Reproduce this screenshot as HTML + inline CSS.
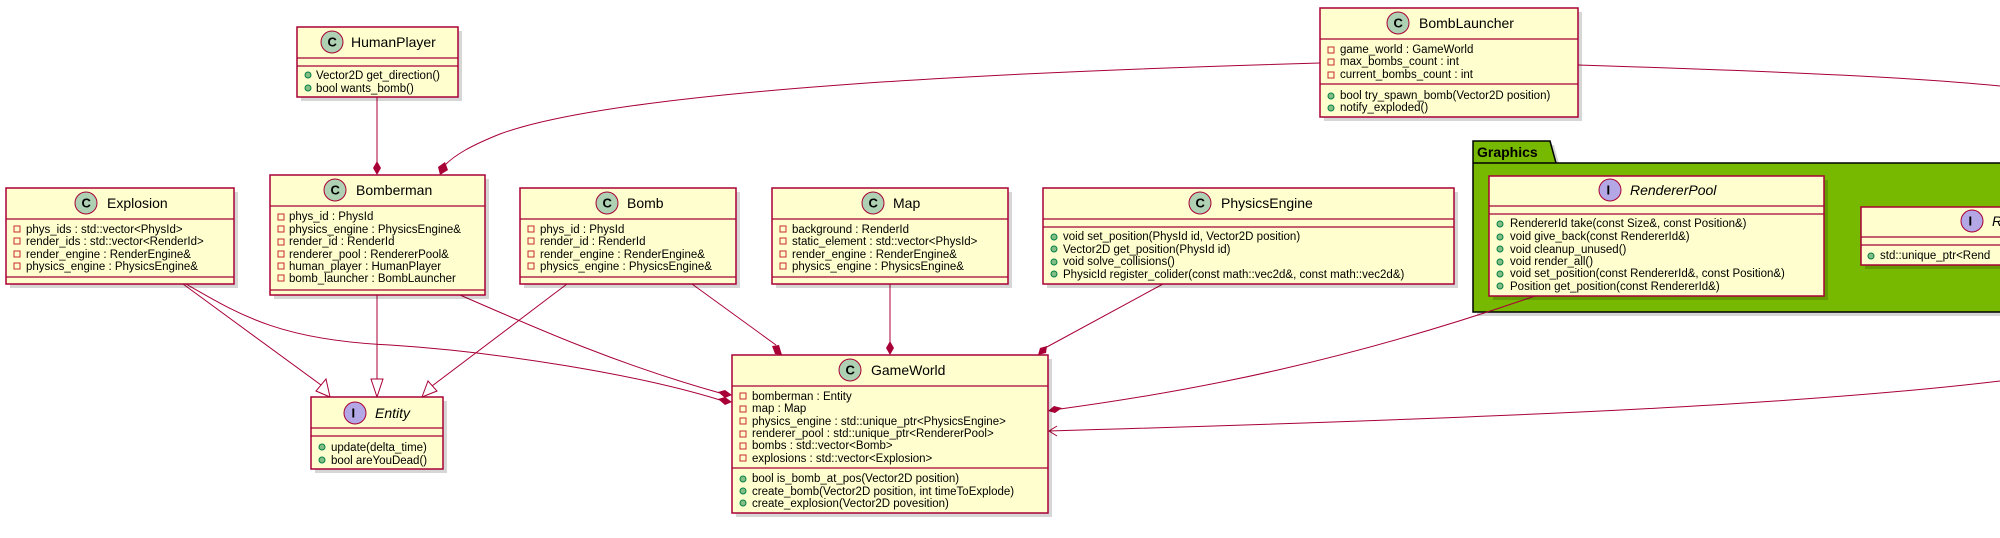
<!DOCTYPE html>
<html><head><meta charset="utf-8"><style>
html,body{margin:0;padding:0;background:#fff;overflow:hidden;}
svg{display:block;}
text{font-family:"Liberation Sans",sans-serif;font-size:11.5px;fill:#000;}
.t{font-size:14px;}
.i{font-style:italic;}
.b{fill:#FEFECE;stroke:#A80036;stroke-width:1.5;}
.s{fill:#000;opacity:.16;}
.l{stroke:#A80036;stroke-width:1;fill:none;}
.sep{stroke:#A80036;stroke-width:1.3;}
.pv{fill:none;stroke:#C82930;stroke-width:1;}
.pb{fill:#84BE84;stroke:#038048;stroke-width:1;}
.cc{fill:#ADD1B2;stroke:#A80036;stroke-width:1;}
.ci{fill:#B4A7E5;stroke:#A80036;stroke-width:1;}
.gl{font-weight:bold;font-size:13px;}
</style></head><body>
<svg width="2000" height="538" viewBox="0 0 2000 538" xmlns="http://www.w3.org/2000/svg">
<defs>
<g id="pv"><rect x="-3" y="-3" width="6" height="6" class="pv"/></g>
<g id="pb"><circle r="3" class="pb"/></g>
</defs>

<!-- Graphics package -->
<polygon points="1477,145 1554,145 1560,167 2014,167 2014,316 1477,316" fill="#000" opacity=".16"/>
<polygon points="1473,141 1550,141 1556,163 2010,163 2010,312 1473,312" fill="#77B800" stroke="#000" stroke-width="1.5"/>
<line x1="1473" y1="163" x2="1556" y2="163" stroke="#000" stroke-width="1.5"/>
<text x="1477" y="157" style="font-size:14px;font-weight:bold">Graphics</text>

<!-- edges -->
<line class="l" x1="377" y1="97" x2="377" y2="162"/>
<polygon points="377,175 373,168 377,161 381,168" fill="#A80036"/>
<path class="l" d="M1320,63 C1000,72 620,90 500,134 C470,146 455,155 445,165"/>
<polygon points="440,175 438,167 445,162 448,170" fill="#A80036"/>
<path class="l" d="M1578,65 C1800,72 1920,78 2000,86"/>
<line class="l" x1="183" y1="284" x2="321" y2="385"/>
<polygon points="330,397 316,391 326,379" fill="#fff" stroke="#A80036"/>
<line class="l" x1="377" y1="295" x2="377" y2="379"/>
<polygon points="377,397 371,379 383,379" fill="#fff" stroke="#A80036"/>
<line class="l" x1="567" y1="284" x2="432" y2="386"/>
<polygon points="422,397 428,381 437,391" fill="#fff" stroke="#A80036"/>
<path class="l" d="M186,284 C240,315 280,340 390,345 C500,352 640,375 720,400"/>
<polygon points="732,402 725,405 718,399 725,397" fill="#A80036"/>
<path class="l" d="M460,295 C540,330 620,365 720,393"/>
<polygon points="732,395 725,398 718,392 725,390" fill="#A80036"/>
<line class="l" x1="692" y1="284" x2="776" y2="345"/>
<polygon points="782,355 775,354 772,346 779,345" fill="#A80036"/>
<line class="l" x1="890" y1="284" x2="890" y2="342"/>
<polygon points="890,355 886,348 890,341 894,348" fill="#A80036"/>
<line class="l" x1="1163" y1="284" x2="1045" y2="348"/>
<polygon points="1038,355 1040,348 1047,346 1046,353" fill="#A80036"/>
<path class="l" d="M1535,296 C1350,360 1200,390 1060,409"/>
<polygon points="1048,411 1054,406 1062,408 1055,413" fill="#A80036"/>
<path class="l" d="M2000,381 C1800,405 1500,418 1049,431"/>
<polyline class="l" points="1057,426 1049,431 1057,436"/>

<!-- HumanPlayer -->
<rect class="s" x="301" y="31" width="161" height="70"/>
<rect class="b" x="297" y="27" width="161" height="70"/>
<circle class="cc" cx="332" cy="42" r="11"/><text x="327.5" y="46.5" class="gl">C</text>
<text x="351" y="47" class="t">HumanPlayer</text>
<line class="sep" x1="297" y1="58" x2="458" y2="58"/>
<line class="sep" x1="297" y1="66" x2="458" y2="66"/>
<use href="#pb" x="308" y="75"/><text x="316" y="79">Vector2D get_direction()</text>
<use href="#pb" x="308" y="88"/><text x="316" y="92">bool wants_bomb()</text>

<!-- BombLauncher -->
<rect class="s" x="1324" y="12" width="258" height="109"/>
<rect class="b" x="1320" y="8" width="258" height="109"/>
<circle class="cc" cx="1398" cy="23" r="11"/><text x="1393.5" y="27.5" class="gl">C</text>
<text x="1419" y="28" class="t">BombLauncher</text>
<line class="sep" x1="1320" y1="39" x2="1578" y2="39"/>
<use href="#pv" x="1331" y="50"/><text x="1340" y="53">game_world : GameWorld</text>
<use href="#pv" x="1331" y="62"/><text x="1340" y="65">max_bombs_count : int</text>
<use href="#pv" x="1331" y="75"/><text x="1340" y="78">current_bombs_count : int</text>
<line class="sep" x1="1320" y1="84" x2="1578" y2="84"/>
<use href="#pb" x="1331" y="96"/><text x="1340" y="99">bool try_spawn_bomb(Vector2D position)</text>
<use href="#pb" x="1331" y="108"/><text x="1340" y="111">notify_exploded()</text>

<!-- Explosion -->
<rect class="s" x="10" y="192" width="228" height="96"/>
<rect class="b" x="6" y="188" width="228" height="96"/>
<circle class="cc" cx="86" cy="203" r="11"/><text x="81.5" y="207.5" class="gl">C</text>
<text x="107" y="208" class="t">Explosion</text>
<line class="sep" x1="6" y1="219" x2="234" y2="219"/>
<use href="#pv" x="17" y="229"/><text x="26" y="233">phys_ids : std::vector&lt;PhysId&gt;</text>
<use href="#pv" x="17" y="241"/><text x="26" y="245">render_ids : std::vector&lt;RenderId&gt;</text>
<use href="#pv" x="17" y="254"/><text x="26" y="258">render_engine : RenderEngine&amp;</text>
<use href="#pv" x="17" y="266"/><text x="26" y="270">physics_engine : PhysicsEngine&amp;</text>
<line class="sep" x1="6" y1="277" x2="234" y2="277"/>

<!-- Bomberman -->
<rect class="s" x="274" y="179" width="215" height="120"/>
<rect class="b" x="270" y="175" width="215" height="120"/>
<circle class="cc" cx="335" cy="190" r="11"/><text x="330.5" y="194.5" class="gl">C</text>
<text x="356" y="195" class="t">Bomberman</text>
<line class="sep" x1="270" y1="206" x2="485" y2="206"/>
<use href="#pv" x="281" y="217"/><text x="289" y="220">phys_id : PhysId</text>
<use href="#pv" x="281" y="229"/><text x="289" y="233">physics_engine : PhysicsEngine&amp;</text>
<use href="#pv" x="281" y="242"/><text x="289" y="245">render_id : RenderId</text>
<use href="#pv" x="281" y="254"/><text x="289" y="258">renderer_pool : RendererPool&amp;</text>
<use href="#pv" x="281" y="266"/><text x="289" y="270">human_player : HumanPlayer</text>
<use href="#pv" x="281" y="278"/><text x="289" y="282">bomb_launcher : BombLauncher</text>
<line class="sep" x1="270" y1="290" x2="485" y2="290"/>

<!-- Bomb -->
<rect class="s" x="524" y="192" width="216" height="96"/>
<rect class="b" x="520" y="188" width="216" height="96"/>
<circle class="cc" cx="607" cy="203" r="11"/><text x="602.5" y="207.5" class="gl">C</text>
<text x="627" y="208" class="t">Bomb</text>
<line class="sep" x1="520" y1="219" x2="736" y2="219"/>
<use href="#pv" x="531" y="229"/><text x="540" y="233">phys_id : PhysId</text>
<use href="#pv" x="531" y="241"/><text x="540" y="245">render_id : RenderId</text>
<use href="#pv" x="531" y="254"/><text x="540" y="258">render_engine : RenderEngine&amp;</text>
<use href="#pv" x="531" y="266"/><text x="540" y="270">physics_engine : PhysicsEngine&amp;</text>
<line class="sep" x1="520" y1="277" x2="736" y2="277"/>

<!-- Map -->
<rect class="s" x="776" y="192" width="236" height="96"/>
<rect class="b" x="772" y="188" width="236" height="96"/>
<circle class="cc" cx="873" cy="203" r="11"/><text x="868.5" y="207.5" class="gl">C</text>
<text x="893" y="208" class="t">Map</text>
<line class="sep" x1="772" y1="219" x2="1008" y2="219"/>
<use href="#pv" x="783" y="229"/><text x="792" y="233">background : RenderId</text>
<use href="#pv" x="783" y="241"/><text x="792" y="245">static_element : std::vector&lt;PhysId&gt;</text>
<use href="#pv" x="783" y="254"/><text x="792" y="258">render_engine : RenderEngine&amp;</text>
<use href="#pv" x="783" y="266"/><text x="792" y="270">physics_engine : PhysicsEngine&amp;</text>
<line class="sep" x1="772" y1="277" x2="1008" y2="277"/>

<!-- PhysicsEngine -->
<rect class="s" x="1047" y="192" width="411" height="96"/>
<rect class="b" x="1043" y="188" width="411" height="96"/>
<circle class="cc" cx="1200" cy="203" r="11"/><text x="1195.5" y="207.5" class="gl">C</text>
<text x="1221" y="208" class="t">PhysicsEngine</text>
<line class="sep" x1="1043" y1="219" x2="1454" y2="219"/>
<line class="sep" x1="1043" y1="227" x2="1454" y2="227"/>
<use href="#pb" x="1054" y="237"/><text x="1063" y="240">void set_position(PhysId id, Vector2D position)</text>
<use href="#pb" x="1054" y="249"/><text x="1063" y="253">Vector2D get_position(PhysId id)</text>
<use href="#pb" x="1054" y="262"/><text x="1063" y="265">void solve_collisions()</text>
<use href="#pb" x="1054" y="274"/><text x="1063" y="278">PhysicId register_colider(const math::vec2d&amp;, const math::vec2d&amp;)</text>

<!-- RendererPool -->
<rect class="s" x="1493" y="180" width="335" height="120"/>
<rect class="b" x="1489" y="176" width="335" height="120"/>
<circle class="ci" cx="1610" cy="190" r="11"/><text x="1606.5" y="194.5" class="gl">I</text>
<text x="1630" y="195" class="t i">RendererPool</text>
<line class="sep" x1="1489" y1="206" x2="1824" y2="206"/>
<line class="sep" x1="1489" y1="214" x2="1824" y2="214"/>
<use href="#pb" x="1500" y="224"/><text x="1510" y="227">RendererId take(const Size&amp;, const Position&amp;)</text>
<use href="#pb" x="1500" y="237"/><text x="1510" y="240">void give_back(const RendererId&amp;)</text>
<use href="#pb" x="1500" y="249"/><text x="1510" y="253">void cleanup_unused()</text>
<use href="#pb" x="1500" y="262"/><text x="1510" y="265">void render_all()</text>
<use href="#pb" x="1500" y="274"/><text x="1510" y="277">void set_position(const RendererId&amp;, const Position&amp;)</text>
<use href="#pb" x="1500" y="286"/><text x="1510" y="290">Position get_position(const RendererId&amp;)</text>

<!-- R interface (clipped) -->
<rect class="s" x="1865" y="211" width="160" height="58"/>
<rect class="b" x="1861" y="207" width="160" height="58"/>
<circle class="ci" cx="1972" cy="221" r="11"/><text x="1968.5" y="225.5" class="gl">I</text>
<text x="1992" y="226" class="t i">R</text>
<line class="sep" x1="1861" y1="237" x2="2010" y2="237"/>
<line class="sep" x1="1861" y1="245" x2="2010" y2="245"/>
<use href="#pb" x="1871" y="256"/><text x="1880" y="259">std::unique_ptr&lt;Rend</text>

<!-- Entity -->
<rect class="s" x="315" y="401" width="132" height="72"/>
<rect class="b" x="311" y="397" width="132" height="72"/>
<circle class="ci" cx="355" cy="413" r="11"/><text x="351.5" y="417.5" class="gl">I</text>
<text x="375" y="418" class="t i">Entity</text>
<line class="sep" x1="311" y1="428" x2="443" y2="428"/>
<line class="sep" x1="311" y1="436" x2="443" y2="436"/>
<use href="#pb" x="322" y="447"/><text x="331" y="451">update(delta_time)</text>
<use href="#pb" x="322" y="460"/><text x="331" y="464">bool areYouDead()</text>

<!-- GameWorld -->
<rect class="s" x="736" y="359" width="316" height="158"/>
<rect class="b" x="732" y="355" width="316" height="158"/>
<circle class="cc" cx="850" cy="370" r="11"/><text x="845.5" y="374.5" class="gl">C</text>
<text x="871" y="375" class="t">GameWorld</text>
<line class="sep" x1="732" y1="386" x2="1048" y2="386"/>
<use href="#pv" x="743" y="396"/><text x="752" y="400">bomberman : Entity</text>
<use href="#pv" x="743" y="409"/><text x="752" y="412">map : Map</text>
<use href="#pv" x="743" y="421"/><text x="752" y="425">physics_engine : std::unique_ptr&lt;PhysicsEngine&gt;</text>
<use href="#pv" x="743" y="434"/><text x="752" y="437">renderer_pool : std::unique_ptr&lt;RendererPool&gt;</text>
<use href="#pv" x="743" y="446"/><text x="752" y="449">bombs : std::vector&lt;Bomb&gt;</text>
<use href="#pv" x="743" y="458"/><text x="752" y="462">explosions : std::vector&lt;Explosion&gt;</text>
<line class="sep" x1="732" y1="468" x2="1048" y2="468"/>
<use href="#pb" x="743" y="479"/><text x="752" y="482">bool is_bomb_at_pos(Vector2D position)</text>
<use href="#pb" x="743" y="491"/><text x="752" y="495">create_bomb(Vector2D position, int timeToExplode)</text>
<use href="#pb" x="743" y="503"/><text x="752" y="507">create_explosion(Vector2D povesition)</text>
</svg>
</body></html>
